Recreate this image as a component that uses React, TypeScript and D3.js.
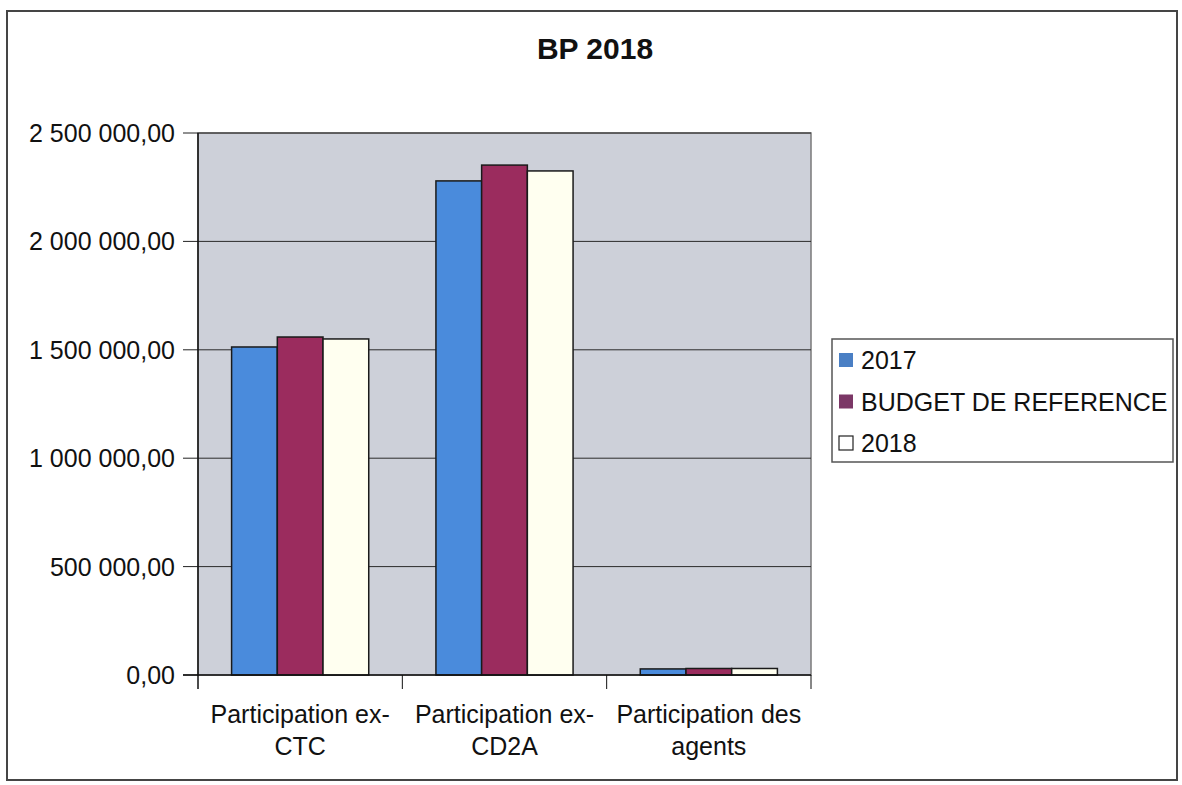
import * as d3 from 'd3'

const categories = [
    ['Participation ex-', 'CTC'],
    ['Participation ex-', 'CD2A'],
    ['Participation des', 'agents'],
]
const seriesNames = ['2017', 'BUDGET DE REFERENCE', '2018']
const values2017 = [1513000, 2279000, 28000]
const valuesBudget = [1559000, 2352000, 30000]
const values2018 = [1550000, 2325000, 30000]
const yTicks = [0, 500000, 1000000, 1500000, 2000000, 2500000]

const colors = ['#4a8bdc', '#9b2c5e', '#fffff0']
const legendColors = ['#4a7fc4', '#7b3766', '#ffffff']

const fmt = (v: number) => {
    const s = d3.format(',.2f')(v)
    return s.replace(/,/g, ' ').replace('.', ',')
}

const App = () => {
    const W = 1182
    const H = 785
    const plot = { left: 198, right: 811, top: 133, bottom: 675 }

    const x = d3
        .scaleBand<number>()
        .domain(categories.map((_, i) => i))
        .range([plot.left, plot.right])

    const xInner = d3
        .scaleBand<number>()
        .domain(seriesNames.map((_, i) => i))
        .range([0, x.bandwidth()])
        .paddingOuter(0.735)

    const y = d3.scaleLinear().domain([0, 2500000]).range([plot.bottom, plot.top])

    const series = [values2017, valuesBudget, values2018]
    const font = "'Liberation Sans', Arial, sans-serif"

    return (
        <svg width={W} height={H} style={{ position: 'absolute', left: 0, top: 0, background: '#fff' }} fontFamily={font}>
            <rect x={7} y={11} width={1170} height={769} fill="#fff" stroke="#454545" strokeWidth={2} />
            <text x={595} y={59} textAnchor="middle" fontSize={30} fontWeight="bold" fill="#111">BP 2018</text>

            <rect x={plot.left} y={plot.top} width={plot.right - plot.left} height={plot.bottom - plot.top} fill="#cdd0d9" stroke="#7a7a7a" strokeWidth={1.5} />

            {yTicks.map(t => (
                <g key={t}>
                    {t > 0 && <line x1={plot.left} x2={plot.right} y1={y(t)} y2={y(t)} stroke="#2a2a2a" strokeWidth={1} />}
                    <line x1={plot.left - 15} x2={plot.left} y1={y(t)} y2={y(t)} stroke="#222" strokeWidth={1} />
                    <text x={175} y={y(t) + 9} textAnchor="end" fontSize={25} fill="#111">{fmt(t)}</text>
                </g>
            ))}

            {series.map((vals, si) =>
                vals.map((v, ci) => (
                    <rect
                        key={si + '-' + ci}
                        x={(x(ci) as number) + (xInner(si) as number)}
                        y={y(v)}
                        width={xInner.bandwidth()}
                        height={y(0) - y(v)}
                        fill={colors[si]}
                        stroke="#1a1a1a"
                        strokeWidth={1.5}
                    />
                ))
            )}

            <line x1={plot.left} x2={plot.left} y1={plot.top} y2={plot.bottom + 14} stroke="#111" strokeWidth={1.5} />
            <line x1={plot.left - 15} x2={plot.right} y1={plot.bottom} y2={plot.bottom} stroke="#111" strokeWidth={1.5} />
            {categories.map((_, i) => (
                <line key={i} x1={(x(i) as number) + x.bandwidth()} x2={(x(i) as number) + x.bandwidth()} y1={plot.bottom} y2={plot.bottom + 14} stroke="#111" strokeWidth={1} />
            ))}

            {categories.map((lines, i) => (
                <text key={i} x={(x(i) as number) + x.bandwidth() / 2} textAnchor="middle" fontSize={25} fill="#111">
                    {lines.map((l, j) => (
                        <tspan key={j} x={(x(i) as number) + x.bandwidth() / 2} y={723 + j * 32}>{l}</tspan>
                    ))}
                </text>
            ))}

            <rect x={832} y={339} width={341} height={123} fill="#fff" stroke="#555" strokeWidth={1.5} />
            {seriesNames.map((s, i) => (
                <g key={s}>
                    <rect x={839} y={353 + i * 41.5} width={14} height={14} fill={legendColors[i]} stroke={i === 2 ? '#222' : 'none'} strokeWidth={1.2} />
                    <text x={861} y={369 + i * 41.5} fontSize={25} fill="#111">{s}</text>
                </g>
            ))}
        </svg>
    )
}

export default App
